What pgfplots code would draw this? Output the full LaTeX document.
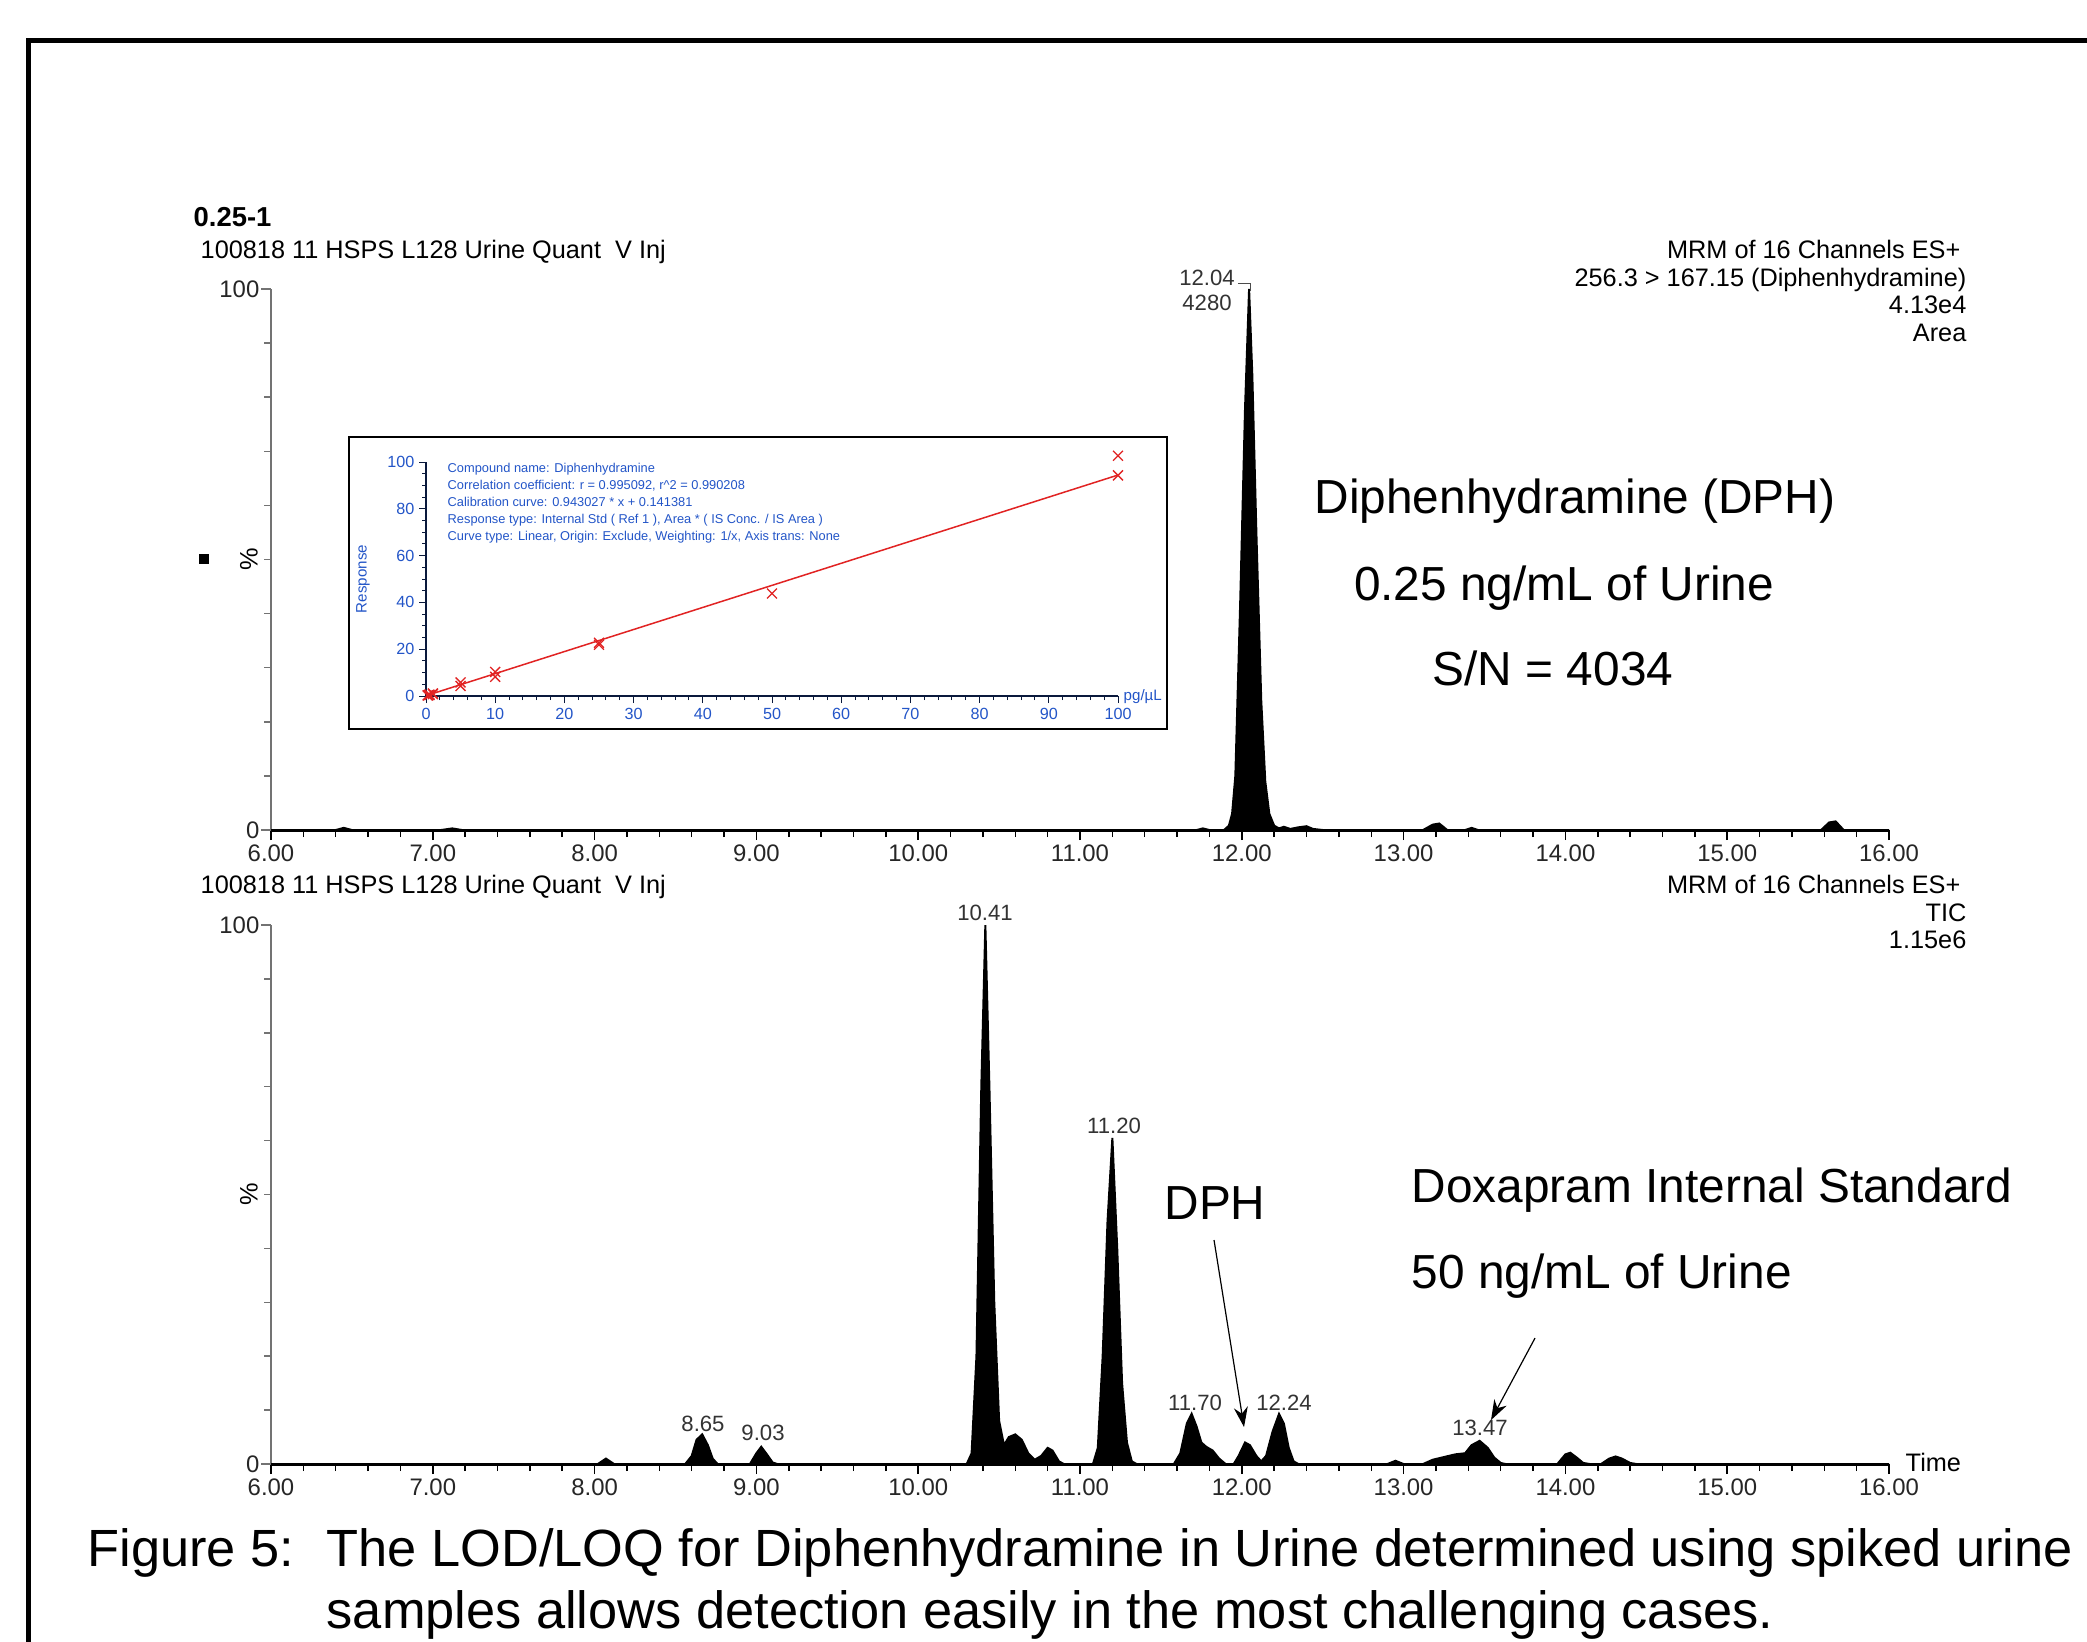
\documentclass[border=0pt]{standalone}
\usepackage{fontspec}
\setmainfont{Liberation Sans}
\usepackage{pgfplots}
\pgfplotsset{compat=1.18}
\usetikzlibrary{arrows.meta}
\definecolor{insetblue}{RGB}{35,85,200}
\definecolor{insetred}{RGB}{225,35,35}
\newcommand{\fs}[1]{\fontsize{#1}{#1}\selectfont}

\pgfplotsset{
  chrom/.style={
    scale only axis, width=161.8mm,
    xmin=6, xmax=16, ymin=0, ymax=100,
    axis lines*=left, clip=false,
    tick align=outside,
    xtick={6,...,16}, minor x tick num=4,
    ytick={0,100}, minor ytick={10,20,...,90},
    major tick length=1.0mm, minor tick length=0.7mm,
    x axis line style={black,line width=0.3mm},
    y axis line style={black!55,line width=0.25mm},
    xtick style={black,line width=0.15mm},
    ytick style={black!55,line width=0.15mm},
    /pgf/number format/assume math mode=true,
    xticklabel={\pgfmathprintnumber[fixed,fixed zerofill,precision=2]{\tick}},
    tick label style={font={\fs{6.8}}, text=black!85},
    xticklabel style={inner sep=0.45mm},
    yticklabel style={inner sep=0.1mm},
  },
}

\begin{document}
\begin{tikzpicture}
\useasboundingbox (0,0) rectangle (208.7mm,-164.1mm);
\clip (0,0) rectangle (208.7mm,-164.1mm);
\fill[white] (0,0) rectangle (208.7mm,-164.1mm);

% DPH channel
\begin{axis}[chrom, at={(27.1mm,-83.0mm)}, anchor=south west, height=54.1mm]
\addplot[draw=black, fill=black, line width=0.2mm] table {
t y
6.00 0
6.40 0
6.45 0.4
6.50 0
7.05 0
7.12 0.3
7.18 0
11.72 0
11.76 0.3
11.80 0
11.89 0
11.92 0.8
11.94 3
11.96 10
11.99 42
12.02 78
12.045 100
12.065 84
12.09 55
12.12 24
12.145 9
12.17 3
12.20 0.8
12.23 0.3
12.26 0.6
12.30 0.2
12.35 0.5
12.40 0.7
12.44 0.2
12.50 0
13.12 0
13.18 1.0
13.22 1.2
13.27 0
13.38 0
13.42 0.4
13.46 0
15.58 0
15.63 1.4
15.67 1.6
15.72 0
16.00 0
} \closedcycle;
\end{axis}

% TIC
\begin{axis}[chrom, at={(27.1mm,-146.4mm)}, anchor=south west, height=53.9mm]
\addplot[draw=black, fill=black, line width=0.2mm] table {
t y
6.00 0
8.02 0
8.07 1.0
8.12 0
8.56 0
8.60 1.5
8.63 4.5
8.665 5.5
8.70 3.5
8.73 1
8.76 0
8.96 0
9.00 2
9.03 3.2
9.06 2
9.10 0.3
9.13 0
10.30 0
10.33 2
10.36 20
10.39 70
10.415 100
10.44 70
10.47 30
10.50 8
10.53 3.5
10.56 5
10.60 5.5
10.64 4.5
10.68 2
10.72 0.8
10.76 1.5
10.80 3
10.83 2.5
10.87 0.5
10.90 0
11.08 0
11.11 3
11.14 20
11.17 45
11.20 60.5
11.23 40
11.26 15
11.29 4
11.32 0.5
11.35 0
11.58 0
11.62 2
11.66 7.5
11.69 9.3
11.72 7
11.75 4
11.78 3.2
11.82 2.5
11.86 1
11.90 0
11.95 0
11.98 1.5
12.02 4.0
12.05 3.5
12.09 1.5
12.12 0.5
12.15 1.5
12.19 6
12.23 9.3
12.26 7.5
12.29 3
12.32 0.5
12.35 0
12.90 0
12.95 0.6
13.00 0
13.12 0
13.18 0.8
13.25 1.3
13.32 1.8
13.38 2
13.42 3.5
13.47 4.3
13.52 3
13.56 1.2
13.60 0.2
13.63 0
13.95 0
14.00 1.8
14.03 2.1
14.07 1.2
14.11 0.2
14.15 0
14.22 0
14.27 1.0
14.31 1.4
14.35 1.0
14.40 0.2
14.44 0
16.00 0
} \closedcycle;
\end{axis}

% calibration inset
\begin{scope}[x=0.1mm,y=-0.1mm]
\draw[fill=white, line width=0.25mm] (349,437) rectangle (1167,729);
\end{scope}
\begin{axis}[at={(42.6mm,-69.6mm)}, anchor=south west, scale only axis,
  width=69.2mm, height=23.4mm,
  xmin=0, xmax=100, ymin=0, ymax=100,
  axis lines*=left, clip=false, tick align=outside,
  xtick={0,10,...,100}, ytick={0,20,...,100},
  minor x tick num=4, minor y tick num=3,
  major tick length=0.7mm, minor tick length=0.4mm,
  axis line style={black!70!insetblue, line width=0.15mm},
  tick style={black!70!insetblue, line width=0.1mm},
  /pgf/number format/assume math mode=true,
  tick label style={font={\fs{4.6}}, text=insetblue},
  xticklabel style={inner sep=0.4mm}, yticklabel style={inner sep=0.4mm}]
\addplot[insetred, line width=0.15mm] coordinates {(0,0.141) (100,94.44)};
\addplot[only marks, mark=x, mark size=0.7mm, insetred, line width=0.13mm] coordinates {
(0.25,0.3) (0.5,0.6) (1,1.1) (0.25,0.2) (0.5,0.4) (1,0.8)
(5,5.8) (5,4.3) (10,10.3) (10,8.2) (25,22.8) (25,21.9)
(50,43.8) (100,102.7) (100,94.3)};
\end{axis}

\begin{scope}[x=0.1mm,y=-0.1mm]
% outer frame
\draw[line width=0.5mm] (28,2000) -- (28,40) -- (2300,40);

% inset texts
\begin{scope}[font={\fs{3.65}}, text=insetblue]
\node[anchor=base west, inner sep=0] at (447,472) {Compound name: Diphenhydramine};
\node[anchor=base west, inner sep=0] at (447,489) {Correlation coefficient: r = 0.995092, r\^{}2 = 0.990208};
\node[anchor=base west, inner sep=0] at (447,506) {Calibration curve: 0.943027 * x + 0.141381};
\node[anchor=base west, inner sep=0] at (447,523) {Response type: Internal Std ( Ref 1 ), Area * ( IS Conc. / IS Area )};
\node[anchor=base west, inner sep=0] at (447,540) {Curve type: Linear, Origin: Exclude, Weighting: 1/x, Axis trans: None};
\node[rotate=90, font={\fs{4.3}}] at (363,579) {Response};
\node[anchor=west, inner sep=0, font={\fs{4.3}}] at (1123,697) {pg/µL};
\end{scope}

% headers
\node[anchor=base west, inner sep=0, font={\fs{7.8}\bfseries}] at (193,226) {0.25-1};
\begin{scope}[font={\fs{7.2}}]
\node[anchor=base west, inner sep=0] at (200,258) {100818 11 HSPS L128 Urine Quant\ \ V Inj};
\node[anchor=base east, inner sep=0] at (1961,258) {MRM of 16 Channels ES+};
\node[anchor=base east, inner sep=0] at (1967,286) {256.3 > 167.15 (Diphenhydramine)};
\node[anchor=base east, inner sep=0] at (1967,313) {4.13e4};
\node[anchor=base east, inner sep=0] at (1967,341) {Area};
\node[anchor=base west, inner sep=0] at (200,893) {100818 11 HSPS L128 Urine Quant\ \ V Inj};
\node[anchor=base east, inner sep=0] at (1961,893) {MRM of 16 Channels ES+};
\node[anchor=base east, inner sep=0] at (1967,921) {TIC};
\node[anchor=base east, inner sep=0] at (1967,948) {1.15e6};
\node[rotate=90] at (249,559) {\%};
\node[rotate=90] at (249,1194) {\%};
\node[anchor=base west, inner sep=0] at (1905,1471) {Time};
\end{scope}
\fill (199,554) rectangle (209,564);

% peak labels
\begin{scope}[font={\fs{6.3}}, text=black!80]
\node[anchor=base, inner sep=0] at (1207,285) {12.04};
\node[anchor=base, inner sep=0] at (1207,310) {4280};
\node[anchor=base, inner sep=0] at (985,920) {10.41};
\node[anchor=base, inner sep=0] at (1114,1133) {11.20};
\node[anchor=base, inner sep=0] at (1195,1410) {11.70};
\node[anchor=base, inner sep=0] at (1284,1410) {12.24};
\node[anchor=base, inner sep=0] at (703,1431) {8.65};
\node[anchor=base, inner sep=0] at (763,1440) {9.03};
\node[anchor=base, inner sep=0] at (1480,1435) {13.47};
\end{scope}
\draw[black!70, line width=0.1mm] (1238,283) -- (1250,283) -- (1250,291);

% annotations
\begin{scope}[font={\fs{13.6}}]
\node[anchor=base, inner sep=0] at (1575,513) {Diphenhydramine (DPH)};
\node[anchor=base, inner sep=0] at (1564,600) {0.25 ng/mL of Urine};
\node[anchor=base, inner sep=0] at (1553,685) {S/N = 4034};
\node[anchor=base, inner sep=0] at (1215,1219) {DPH};
\node[anchor=base west, inner sep=0] at (1411,1202) {Doxapram Internal Standard};
\node[anchor=base west, inner sep=0] at (1411,1288) {50 ng/mL of Urine};
\end{scope}
\draw[-{Stealth[length=2mm,width=1.4mm]}, line width=0.12mm] (1214,1240) -- (1244,1427);
\draw[-{Stealth[length=2mm,width=1.4mm]}, line width=0.12mm] (1535,1338) -- (1491,1420);

% caption
\begin{scope}[font={\fs{14.9}}]
\node[anchor=base west, inner sep=0] at (87,1566) {Figure 5:};
\node[anchor=base west, inner sep=0] at (326,1566) {The LOD/LOQ for Diphenhydramine in Urine determined using spiked urine};
\node[anchor=base west, inner sep=0] at (326,1628) {samples allows detection easily in the most challenging cases.};
\end{scope}
\end{scope}
\end{tikzpicture}
\end{document}
